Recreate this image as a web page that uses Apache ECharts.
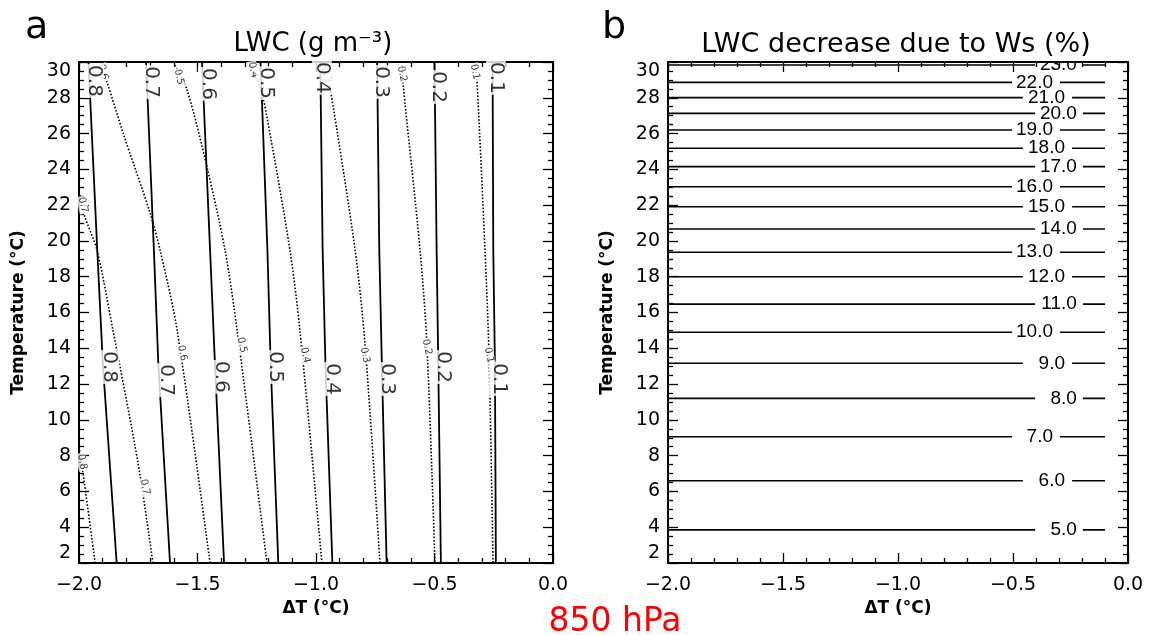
<!DOCTYPE html>
<html>
<head>
<meta charset="utf-8">
<script src="https://cdn.jsdelivr.net/npm/echarts@6/dist/echarts.min.js"></script>
<style>
  html, body { margin: 0; padding: 0; background: #fff; }
  #chart { width: 1149px; height: 635px; }
</style>
</head>
<body>
<div id="chart"></div>
<script>
// ---- data ----
// left panel: LWC solid contours, x (dT) at the temperatures in solidT
let solidT = [30, 19.49, 13.03, 2.0]
let solid08 = [-1.960, -1.923, -1.899, -1.841]
let solid07 = [-1.717, -1.684, -1.665, -1.616]
let solid06 = [-1.481, -1.447, -1.426, -1.388]
let solid05 = [-1.234, -1.205, -1.191, -1.159]
let solid04 = [-0.982, -0.972, -0.960, -0.931]
let solid03 = [-0.742, -0.733, -0.722, -0.702]
let solid02 = [-0.500, -0.491, -0.484, -0.473]
let solid01 = [-0.255, -0.252, -0.245, -0.241]

// dotted contours, [dT, T]
let dot08 = [[-2.0, 8.48], [-1.979, 6.64], [-1.932, 2.0]]
let dot07 = [[-1.996, 22.56], [-1.975, 21.34], [-1.924, 19.49], [-1.857, 15.02], [-1.751, 7.59], [-1.688, 2.0]]
let dot06 = [[-1.911, 29.83], [-1.882, 28.88], [-1.814, 26.03], [-1.700, 21.56], [-1.658, 19.49], [-1.586, 15.02], [-1.447, 2.0]]
let dot05 = [[-1.595, 29.83], [-1.544, 28.44], [-1.460, 24.13], [-1.384, 19.49], [-1.333, 15.02], [-1.207, 2.0]]
let dot04 = [[-1.278, 29.83], [-1.236, 28.60], [-1.207, 26.93], [-1.110, 19.49], [-1.068, 15.02], [-0.975, 2.0]]
let dot03 = [[-0.962, 29.83], [-0.941, 28.60], [-0.835, 19.49], [-0.793, 14.19], [-0.730, 2.0]]
let dot02 = [[-0.637, 29.83], [-0.633, 28.83], [-0.561, 19.49], [-0.532, 14.19], [-0.498, 2.0]]
let dot01 = [[-0.329, 29.83], [-0.321, 28.99], [-0.287, 19.49], [-0.270, 13.61], [-0.253, 2.0]]

// contour labels [dT, T, text]
let solidLabels = [
    [-1.937, 28.94, '0.8'], [-1.696, 28.88, '0.7'], [-1.456, 28.77, '0.6'], [-1.211, 28.82, '0.5'],
    [-0.975, 29.11, '0.4'], [-0.726, 28.88, '0.3'], [-0.485, 28.60, '0.2'], [-0.241, 29.11, '0.1'],
    [-1.872, 12.95, '0.8'], [-1.634, 12.22, '0.7'], [-1.400, 12.40, '0.6'], [-1.171, 12.95, '0.5'],
    [-0.932, 12.28, '0.4'], [-0.698, 12.28, '0.3'], [-0.464, 12.95, '0.2'], [-0.228, 12.28, '0.1']
]
let dotLabels = [
    [-1.899, 29.44, '0.6'], [-1.578, 29.16, '0.5'], [-1.266, 29.55, '0.4'], [-0.958, 29.27, '0.3'],
    [-0.637, 29.33, '0.2'], [-0.329, 29.44, '0.1'], [-1.983, 22.01, '0.7'], [-1.987, 7.65, '0.8'],
    [-1.722, 6.25, '0.7'], [-1.565, 13.74, '0.6'], [-1.312, 14.19, '0.5'], [-1.046, 13.61, '0.4'],
    [-0.793, 13.61, '0.3'], [-0.532, 14.07, '0.2'], [-0.270, 13.61, '0.1']
]

// right panel: LWC decrease (%) levels, their temperature, label right edge and line gap
let pctLevels = [23, 22, 21, 20, 19, 18, 17, 16, 15, 14, 13, 12, 11, 10, 9, 8, 7, 6, 5]
let pctT = [29.83, 28.86, 28.01, 27.13, 26.20, 25.18, 24.15, 23.03, 21.91, 20.67, 19.37, 18.00, 16.47, 14.90, 13.16, 11.20, 9.06, 6.60, 3.85]
let pctLabelX = [-0.222, -0.326, -0.274, -0.222, -0.326, -0.274, -0.222, -0.326, -0.274, -0.222, -0.326, -0.274, -0.222, -0.326, -0.274, -0.222, -0.326, -0.274, -0.222]
let pctGapL = [-0.404, -0.504, -0.457, -0.404, -0.504, -0.457, -0.404, -0.504, -0.457, -0.404, -0.504, -0.457, -0.404, -0.504, -0.457, -0.404, -0.504, -0.457, -0.404]
let pctGapR = [-0.196, -0.296, -0.243, -0.196, -0.296, -0.243, -0.196, -0.296, -0.243, -0.196, -0.296, -0.243, -0.196, -0.296, -0.243, -0.196, -0.296, -0.243, -0.196]
let pctEnd = -0.1

const FONT = 'DejaVu Sans'
const black = '#000'

function xAxes(gridIndex) {
    let base = {
        gridIndex: gridIndex, type: 'value', min: -2, max: 0, interval: 0.5,
        splitLine: {show: false},
        axisLine: {show: true, onZero: false, lineStyle: {color: black, width: 2}},
        axisTick: {show: true, inside: true, length: 10, lineStyle: {color: black, width: 1.3}},
        minorTick: {show: true, splitNumber: 5, length: 5, lineStyle: {color: black, width: 1.3}}
    }
    return [
        Object.assign({}, base, {
            position: 'bottom',
            name: 'ΔT (°C)', nameLocation: 'middle', nameGap: 36,
            nameTextStyle: {fontFamily: FONT, fontSize: 17, fontWeight: 'bold', color: black},
            axisLabel: {
                show: true, margin: 13, fontFamily: FONT, fontSize: 19, color: black,
                formatter: v => v.toFixed(1).replace('-', '\u2212')
            }
        }),
        Object.assign({}, base, {position: 'top', axisLabel: {show: false}})
    ]
}

function yAxes(gridIndex) {
    let base = {
        gridIndex: gridIndex, type: 'value', min: 2, max: 30, interval: 2,
        splitLine: {show: false},
        axisLine: {show: true, onZero: false, lineStyle: {color: black, width: 2}},
        axisTick: {show: true, inside: true, length: 10, lineStyle: {color: black, width: 1.3}},
        minorTick: {show: true, splitNumber: 4, length: 5, lineStyle: {color: black, width: 1.3}},
        axisLabel: {show: false}
    }
    return [
        Object.assign({}, base, {
            position: 'left',
            name: 'Temperature (°C)', nameLocation: 'middle', nameGap: 52,
            nameTextStyle: {fontFamily: FONT, fontSize: 17, fontWeight: 'bold', color: black},
            axisLabel: {show: true, margin: 8, fontFamily: FONT, fontSize: 19, color: black,
                verticalAlignMinLabel: 'bottom', verticalAlignMaxLabel: 'top'}
        }),
        Object.assign({}, base, {position: 'right'})
    ]
}

function solidLine(xs) {
    return {
        type: 'line', xAxisIndex: 0, yAxisIndex: 0, silent: true, symbol: 'none',
        data: xs.map((x, i) => [x, solidT[i]]),
        lineStyle: {color: black, width: 1.8}
    }
}

function dotLine(pts) {
    return {
        type: 'line', xAxisIndex: 0, yAxisIndex: 0, silent: true, symbol: 'none', smooth: 0.3,
        data: pts,
        lineStyle: {color: black, width: 1.6, type: [1.6, 1.8]}
    }
}

let series = []
;[solid08, solid07, solid06, solid05, solid04, solid03, solid02, solid01].forEach(s => series.push(solidLine(s)))
;[dot08, dot07, dot06, dot05, dot04, dot03, dot02, dot01].forEach(s => series.push(dotLine(s)))

series.push({
    type: 'scatter', xAxisIndex: 0, yAxisIndex: 0, silent: true, symbolSize: 0, z: 5,
    data: dotLabels.map(d => ({value: [d[0], d[1]], name: d[2]})),
    label: {show: true, position: 'inside', formatter: '{b}', rotate: -78, fontFamily: FONT, fontSize: 10,
        color: black, backgroundColor: '#fff', padding: [0, 1]}
})
series.push({
    type: 'scatter', xAxisIndex: 0, yAxisIndex: 0, silent: true, symbolSize: 0, z: 6,
    data: solidLabels.map(d => ({value: [d[0], d[1]], name: d[2]})),
    label: {show: true, position: 'inside', formatter: '{b}', rotate: -90, fontFamily: FONT, fontSize: 20,
        color: black, backgroundColor: '#fff', padding: [0, 1]}
})

// right panel lines: long part, gap for the label, short part
pctT.forEach((t, i) => {
    series.push({
        type: 'line', xAxisIndex: 2, yAxisIndex: 2, silent: true, symbol: 'none',
        data: [[-2, t], [pctGapL[i], t]], lineStyle: {color: black, width: 1.6}
    })
    series.push({
        type: 'line', xAxisIndex: 2, yAxisIndex: 2, silent: true, symbol: 'none',
        data: [[pctGapR[i], t], [pctEnd, t]], lineStyle: {color: black, width: 1.6}
    })
})
series.push({
    type: 'custom', xAxisIndex: 2, yAxisIndex: 2, silent: true, clip: true, z: 5,
    data: pctLevels.map((v, i) => [pctLabelX[i], pctT[i]]),
    encode: {x: 0, y: 1},
    renderItem: function (params, api) {
        let p = api.coord([api.value(0), api.value(1)])
        return {
            type: 'text', x: p[0], y: p[1],
            style: {
                text: pctLevels[params.dataIndex].toFixed(1), fill: black,
                fontFamily: 'Liberation Sans', fontSize: 19, align: 'right', verticalAlign: 'middle'
            }
        }
    }
})

let option = {
    animation: false,
    backgroundColor: '#fff',
    title: [
        {text: 'a', left: 20, top: 4, textStyle: {fontFamily: FONT, fontSize: 38, fontWeight: 'normal', color: black}},
        {text: 'b', left: 597, top: 4, textStyle: {fontFamily: FONT, fontSize: 38, fontWeight: 'normal', color: black}},
        {text: 'LWC (g m⁻³)', left: 308, top: 26, textAlign: 'center',
            textStyle: {fontFamily: FONT, fontSize: 26, fontWeight: 'normal', color: black}},
        {text: 'LWC decrease due to Ws (%)', left: 891, top: 26, textAlign: 'center',
            textStyle: {fontFamily: FONT, fontSize: 27, fontWeight: 'normal', color: black}},
        {text: '850 hPa', left: 610, top: 601, textAlign: 'center',
            textStyle: {fontFamily: FONT, fontSize: 33, fontWeight: 'normal', color: '#ff0000'}}
    ],
    grid: [
        {left: 79, top: 62, width: 474, height: 501},
        {left: 668, top: 62, width: 460, height: 501}
    ],
    xAxis: xAxes(0).concat(xAxes(1)),
    yAxis: yAxes(0).concat(yAxes(1)),
    series: series
}

const dom = document.getElementById('chart')
const myChart = echarts.init(dom)
myChart.setOption(option, true)
</script>
</body>
</html>
